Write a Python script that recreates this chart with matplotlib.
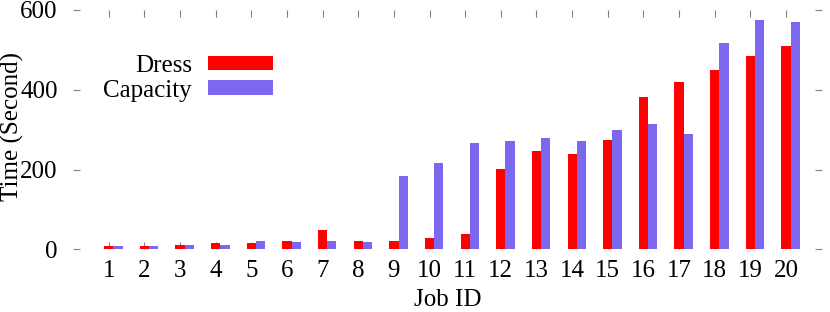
import matplotlib
matplotlib.use("Agg")
import matplotlib.pyplot as plt
import numpy as np

plt.rcParams['font.family'] = ['Liberation Serif', 'DejaVu Serif']

job_ids = np.arange(1, 21)
dress = [8, 8, 11, 15, 17, 20, 48, 22, 21, 29, 39, 202, 246, 239, 273, 383, 419, 450, 485, 510]
capacity = [7, 8, 10, 12, 21, 18, 21, 18, 184, 216, 266, 271, 280, 272, 298, 313, 289, 517, 575, 570]

fig = plt.figure(figsize=(8.3, 3.12), dpi=100)
ax = fig.add_axes([0.088, 0.201, 0.902, 0.767])

w = 0.26
ax.bar(job_ids, dress, w, color='#ff0000', label='Dress')
ax.bar(job_ids + w, capacity, w, color='#7b68ee', label='Capacity')

ax.set_xlim(0, 21)
ax.set_ylim(0, 600)
ax.set_xticks(job_ids)
ax.set_yticks([0, 200, 400, 600])
ax.tick_params(axis='both', direction='in', length=5, width=0.8, color='#808080',
               labelsize=18, top=True, right=True, bottom=True)
ax.tick_params(axis='x', pad=8)
ax.tick_params(axis='y', pad=11)
ax.set_axisbelow(True)
for s in ax.spines.values():
    s.set_visible(False)

ax.set_xlabel('Job ID', fontsize=18, labelpad=5)
ax.set_ylabel('Time (Second)', fontsize=18)
ax.yaxis.set_label_coords(-0.066, 0.513)

ax.legend(loc='upper right', bbox_to_anchor=(273 / 830, 1 - 55 / 312),
          bbox_transform=fig.transFigure, frameon=False, markerfirst=False,
          fontsize=18, handlelength=2.6, handleheight=0.52, handletextpad=0.64,
          labelspacing=0.1, borderpad=0, borderaxespad=0)

fig.savefig('out.png', dpi=100)
